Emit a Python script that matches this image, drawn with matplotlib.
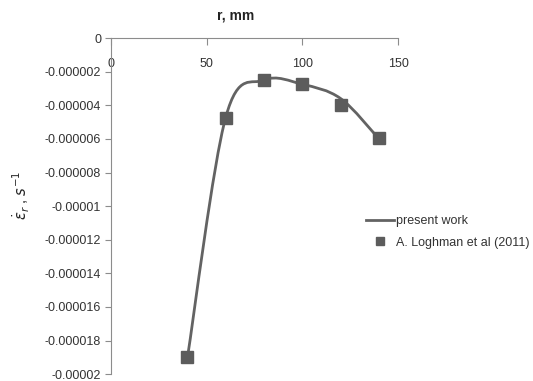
# Strain rate vs radius, present work vs Loghman et al (2011)

import matplotlib.pyplot as plt
from matplotlib.path import Path
from matplotlib.patches import PathPatch
from matplotlib.lines import Line2D

plt.rcParams['font.family'] = ['Liberation Sans', 'DejaVu Sans']

# Data
r_mm = [40, 60, 80, 100, 120, 140]
present_work = [-0.0000190, -0.0000047, -0.0000025, -0.00000275, -0.0000036, -0.0000060]
loghman_2011 = [-0.0000190, -0.00000476, -0.0000025, -0.00000276, -0.0000040, -0.00000595]
y_ticks = [0, -0.000002, -0.000004, -0.000006, -0.000008, -0.00001,
           -0.000012, -0.000014, -0.000016, -0.000018, -0.00002]
y_tick_labels = ['0', '-0.000002', '-0.000004', '-0.000006', '-0.000008', '-0.00001',
                 '-0.000012', '-0.000014', '-0.000016', '-0.000018', '-0.00002']
x_ticks = [0, 50, 100, 150]

LINE_COLOR = '#636363'
MARKER_COLOR = '#5c5c5c'
AXIS_COLOR = '#8c8c8c'

fig = plt.figure(figsize=(5.33, 3.81), dpi=100)
ax = fig.add_axes([0.208, 0.018, 0.539, 0.882])


def smooth_path(xs, ys):
    # Excel-style smoothed line: cubic Bezier with Catmull-Rom control points
    verts = [(xs[0], ys[0])]
    codes = [Path.MOVETO]
    n = len(xs)
    for i in range(n - 1):
        x0, y0 = (xs[i - 1], ys[i - 1]) if i > 0 else (xs[i], ys[i])
        x1, y1 = xs[i], ys[i]
        x2, y2 = xs[i + 1], ys[i + 1]
        x3, y3 = (xs[i + 2], ys[i + 2]) if i + 2 < n else (x2, y2)
        c1 = (x1 + (x2 - x0) / 6, y1 + (y2 - y0) / 6)
        c2 = (x2 - (x3 - x1) / 6, y2 - (y3 - y1) / 6)
        verts += [c1, c2, (x2, y2)]
        codes += [Path.CURVE4] * 3
    return Path(verts, codes)


ax.add_patch(PathPatch(smooth_path(r_mm, present_work), facecolor='none',
                       edgecolor=LINE_COLOR, lw=2.0, zorder=2))
ax.plot(r_mm, loghman_2011, linestyle='none', marker='s', markersize=8,
        color=MARKER_COLOR, zorder=3)

ax.set_xlim(0, 150)
ax.set_ylim(-0.00002, 0)
ax.set_xticks(x_ticks)
ax.set_yticks(y_ticks)
ax.set_yticklabels(y_tick_labels)

# x axis sits at the top (y = 0), labels below the line
ax.xaxis.set_ticks_position('top')
ax.tick_params(axis='x', direction='in', length=5, pad=-23, labelsize=9,
               color=AXIS_COLOR, labelcolor='#333333')
ax.tick_params(axis='y', direction='out', length=4, labelsize=9,
               color=AXIS_COLOR, labelcolor='#333333', pad=3)
for side in ['right', 'bottom']:
    ax.spines[side].set_visible(False)
for side in ['left', 'top']:
    ax.spines[side].set_color(AXIS_COLOR)

fig.text(236 / 533, 1 - 15 / 381, 'r, mm', ha='center', va='center',
         fontsize=10, fontweight='bold', color='#222222')
fig.text(21 / 533, 1 - 195 / 381, r'$\dot{\varepsilon}_r$ , $s^{-1}$', rotation=90,
         ha='center', va='center', fontsize=10.5, color='#222222')

handles = [Line2D([], [], color=LINE_COLOR, lw=2.0),
           Line2D([], [], linestyle='none', marker='s', markersize=6, color=MARKER_COLOR)]
fig.legend(handles, ['present work', 'A. Loghman et al (2011)'],
           loc='upper left', bbox_to_anchor=(355 / 533, 1 - 204 / 381),
           frameon=False, fontsize=9, handlelength=2.2, handletextpad=0.2,
           labelspacing=0.75, labelcolor='#333333')

fig.savefig('out.png', dpi=100)
